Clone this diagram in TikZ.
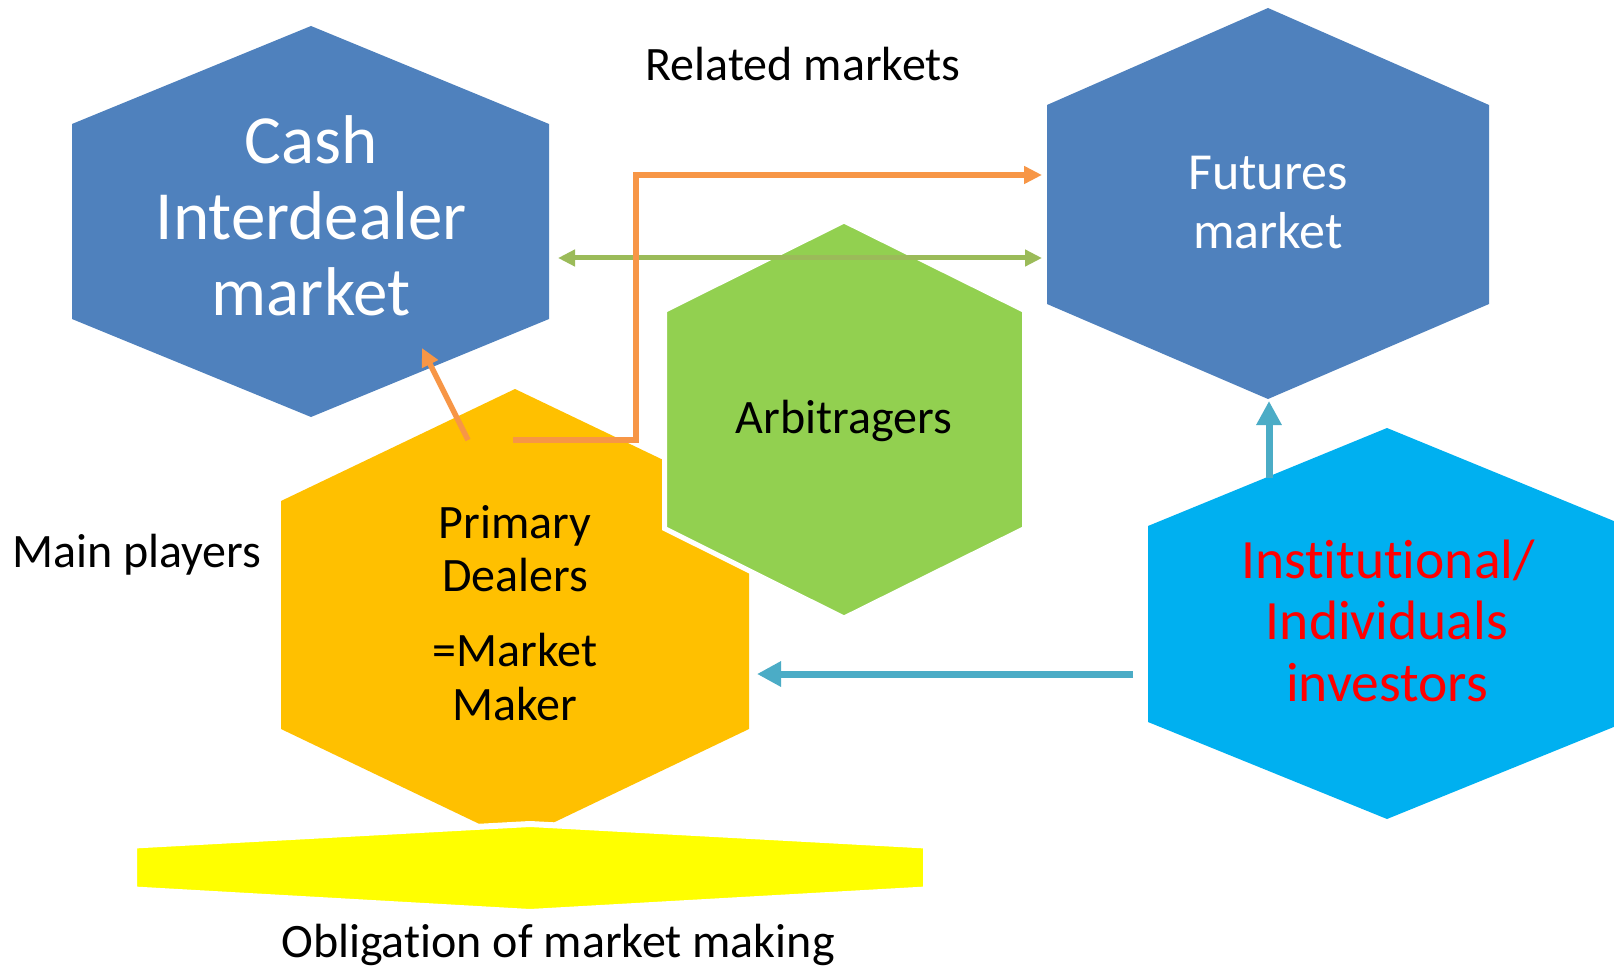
\documentclass[tikz,border=0pt]{standalone}
\usepackage{fontspec}
\setmainfont{Carlito}[Ligatures={NoCommon,NoContextual}]
\usetikzlibrary{arrows.meta}
\definecolor{hexblue}{HTML}{4F81BD}
\definecolor{hexgreen}{HTML}{92D050}
\definecolor{hexyellow}{HTML}{FFC000}
\definecolor{hexcyan}{HTML}{00B0F0}
\definecolor{banneryellow}{HTML}{FFFF00}
\definecolor{arrorange}{HTML}{F79646}
\definecolor{arrgreen}{HTML}{9BBB59}
\definecolor{arrteal}{HTML}{4BACC6}
\definecolor{txtred}{HTML}{FF0000}
\begin{document}
\begin{tikzpicture}[x=1pt,y=-1pt,
  lbl/.style={anchor=base,inner sep=0pt,font=\fontsize{48}{56}\selectfont},
  biglbl/.style={lbl,font=\fontsize{69}{75}\selectfont,text=white},
  futlbl/.style={lbl,font=\fontsize{52}{60}\selectfont,text=white},
  invlbl/.style={lbl,font=\fontsize{55.5}{62}\selectfont,text=txtred},
  orangearrow/.style={draw=arrorange,line width=5.5pt,line join=miter,-{Triangle[length=18pt,width=17pt]}},
  greenarrow/.style={draw=arrgreen,line width=5pt,{Triangle[length=17pt,width=16pt]}-{Triangle[length=17pt,width=16pt]}},
  tealarrow/.style={draw=arrteal,line width=7pt,-{Triangle[length=24pt,width=24pt]}},
  outlined/.style={draw=white,line width=5pt,line join=miter}
]
\useasboundingbox (0,0) rectangle (1614,968);
\fill[white] (0,0) rectangle (1614,968);
\clip (0,0) rectangle (1614,968);

% hexagons
\fill[hexblue] (311,26) -- (549,124) -- (549,319) -- (311,417) -- (72,319) -- (72,124) -- cycle;
\fill[hexblue] (1268,8) -- (1489,105) -- (1489,304) -- (1268,399) -- (1047,304) -- (1047,105) -- cycle;
\fill[hexyellow] (515,389) -- (749,501) -- (749,729) -- (515,841) -- (281,729) -- (281,501) -- cycle;
\filldraw[fill=hexgreen,outlined] (844,221) -- (1024.5,310.5) -- (1024.5,528.5) -- (844,618) -- (664.5,528.5) -- (664.5,310.5) -- cycle;
\fill[hexcyan] (1387,428) -- (1626,526) -- (1626,722) -- (1387,819) -- (1148,722) -- (1148,526) -- cycle;
\filldraw[fill=banneryellow,outlined,line width=6pt] (530,824) -- (926,845.5) -- (926,889.5) -- (530,912) -- (134,889.5) -- (134,845.5) -- cycle;

% connector end points
\coordinate (cashR) at (558,258);
\coordinate (futL) at (1042,258);
\coordinate (futIn) at (1042,175);
\coordinate (elbow) at (636,175);
\coordinate (pdTop) at (468,440);
\coordinate (cashIn) at (422,348);
\coordinate (pdOut) at (513,440);
\coordinate (invTop) at (1269,478);
\coordinate (futBot) at (1269,401);
\coordinate (invL) at (1133,674);
\coordinate (pdR) at (757,674);

% connectors
\draw[greenarrow] (cashR) -- (futL);
\draw[orangearrow] (pdTop) -- (cashIn);
\draw[orangearrow] (pdOut) -| (elbow) -- (futIn);
\draw[tealarrow] (invTop) -- (futBot);
\draw[tealarrow] (invL) -- (pdR);

% texts
\node[lbl] (related) at (803,81) {Related markets};
\node[lbl] (players) at (137,567) {Main players};
\node[lbl] (oblig) at (558,957) {Obligat\kern0pt ion of market making};

\node[biglbl] (cash1) at (311,164) {Cash};
\node[biglbl] (cash2) at (311,240) {Interdealer};
\node[biglbl] (cash3) at (311,316) {market};

\node[futlbl] (fut1) at (1268,190) {Futures};
\node[futlbl] (fut2) at (1268,249) {market};

\node[lbl] (arb) at (844,433) {Arbitragers};

\node[lbl] (pd1) at (515,538) {Primary};
\node[lbl] (pd2) at (515,591) {Dealers};
\node[lbl] (pd3) at (515,666) {=Market};
\node[lbl] (pd4) at (515,720) {Maker};

\node[invlbl] (inv1) at (1388,578) {Inst\kern0pt it\kern0pt ut\kern0pt ional/};
\node[invlbl] (inv2) at (1387,639) {Individuals};
\node[invlbl] (inv3) at (1387,701) {investors};
\end{tikzpicture}
\end{document}
